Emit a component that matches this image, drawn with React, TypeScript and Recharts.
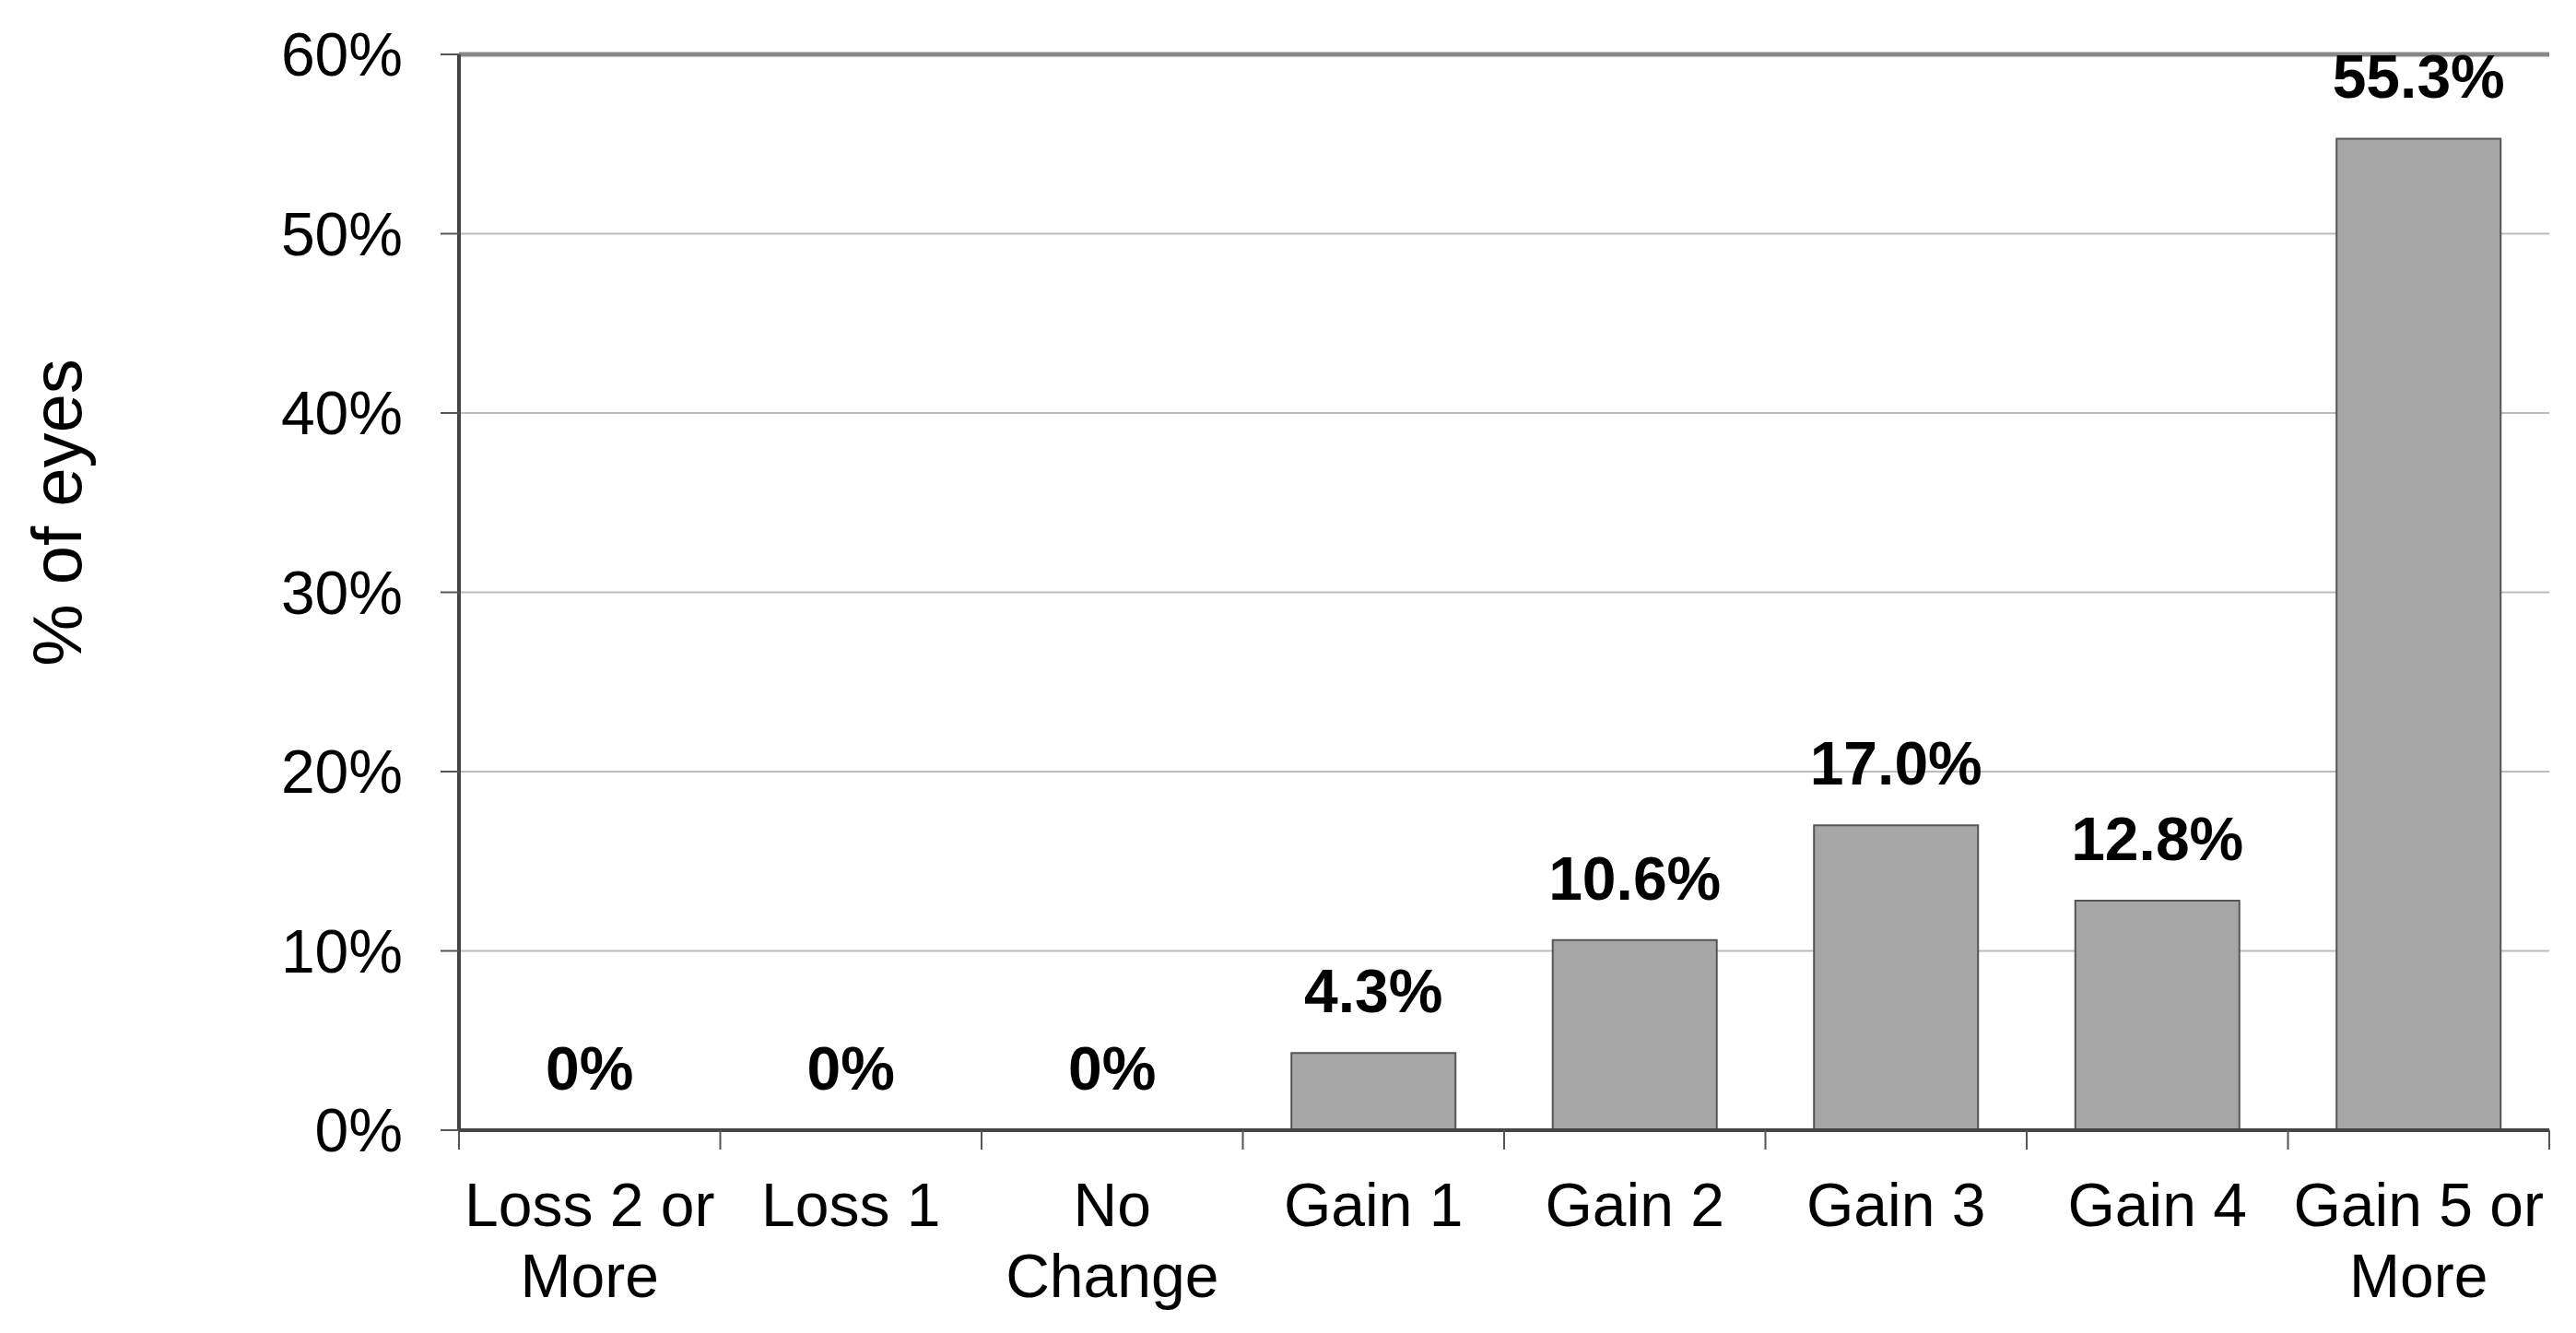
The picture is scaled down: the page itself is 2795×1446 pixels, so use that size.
import { BarChart, Bar, XAxis, YAxis, CartesianGrid, ReferenceLine, LabelList } from 'recharts';

const categories = ['Loss 2 or\nMore', 'Loss 1', 'No\nChange', 'Gain 1', 'Gain 2', 'Gain 3', 'Gain 4', 'Gain 5 or\nMore'];
const eyesPct = [0, 0, 0, 4.3, 10.6, 17.0, 12.8, 55.3];
const yTicks = [0, 10, 20, 30, 40, 50, 60];

const data = categories.map((name, i) => ({ name, value: eyesPct[i] }));

const FONT = '"Liberation Sans", Arial, sans-serif';
const W = 2795;
const H = 1446;
const margin = { top: 59, right: 29, bottom: 0, left: 0 };
const Y_AXIS_W = 498;
const X_AXIS_H = 220;
// width of one category band, used only for the boundary tick marks
const band = (W - margin.left - margin.right - Y_AXIS_W) / categories.length;

function CategoryTick(props: any) {
    const { x, y, payload, index } = props;
    const lines = String(payload.value).split('\n');
    return (
        <g>
            <line x1={x - band / 2} y1={y} x2={x - band / 2} y2={y + 21} stroke="#555" strokeWidth={2} />
            {index === categories.length - 1 && (
                <line x1={x + band / 2} y1={y} x2={x + band / 2} y2={y + 21} stroke="#555" strokeWidth={2} />
            )}
            <text x={x} y={y + 104} textAnchor="middle" fontSize={66} fontFamily={FONT} fill="#000">
                {lines.map((l, i) => (
                    <tspan key={i} x={x} dy={i === 0 ? 0 : 77}>{l}</tspan>
                ))}
            </text>
        </g>
    );
}

function YTitle() {
    return (
        <text
            x={88}
            y={556}
            transform="rotate(-90, 88, 556)"
            textAnchor="middle"
            fontSize={76}
            fontFamily={FONT}
            fill="#000"
        >
            % of eyes
        </text>
    );
}

export default function App() {
    return (
        <div style={{ position: 'absolute', left: 0, top: 0, width: W, height: H, background: '#fff' }}>
            <BarChart width={W} height={H} data={data} margin={margin} barCategoryGap="18.6%">
                <CartesianGrid horizontal vertical={false} stroke="#bbb" strokeWidth={2} />
                <XAxis
                    dataKey="name"
                    height={X_AXIS_H}
                    interval={0}
                    tickLine={false}
                    tickSize={0}
                    tickMargin={0}
                    axisLine={{ stroke: '#444', strokeWidth: 4 }}
                    tick={(p: any) => <CategoryTick {...p} />}
                />
                <YAxis
                    width={Y_AXIS_W}
                    domain={[0, 60]}
                    ticks={yTicks}
                    interval={0}
                    tickFormatter={(v) => `${v}%`}
                    tickSize={20}
                    tickMargin={41}
                    tick={{ fontSize: 66, fontFamily: FONT, fill: '#000' }}
                    tickLine={{ stroke: '#555', strokeWidth: 2 }}
                    axisLine={{ stroke: '#444', strokeWidth: 4 }}
                    label={<YTitle />}
                />
                <YAxis
                    yAxisId="frame"
                    orientation="right"
                    width={0}
                    domain={[0, 60]}
                    tick={false}
                    tickLine={false}
                    axisLine={{ stroke: '#888', strokeWidth: 5 }}
                />
                <ReferenceLine y={60} stroke="#888" strokeWidth={5} />
                <Bar
                    dataKey="value"
                    fill="#a6a6a6"
                    stroke="#555"
                    strokeWidth={2}
                    minPointSize={0.01}
                    isAnimationActive={false}
                >
                    <LabelList
                        dataKey="value"
                        position="top"
                        offset={44}
                        formatter={(v: any) => (v === 0 ? '0%' : `${Number(v).toFixed(1)}%`)}
                        style={{ fontSize: 66, fontWeight: 'bold', fontFamily: FONT, fill: '#000' }}
                    />
                </Bar>
            </BarChart>
        </div>
    );
}
